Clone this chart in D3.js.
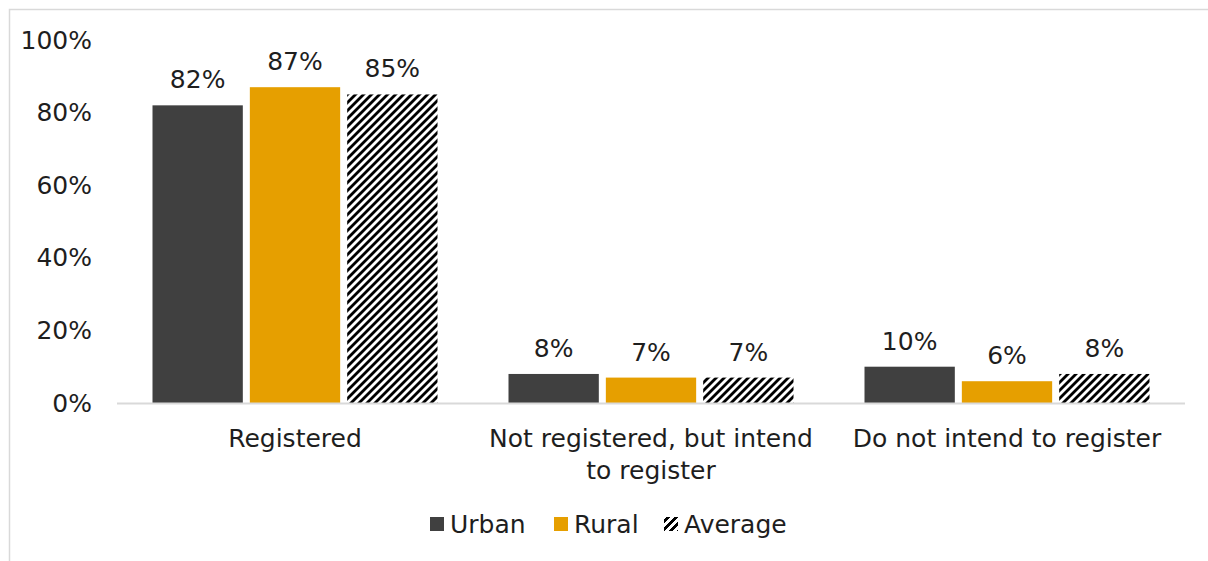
<!DOCTYPE html>
<html>
<head>
<meta charset="utf-8">
<script src="https://cdn.jsdelivr.net/npm/d3@7"></script>
<style>
  html, body { margin: 0; padding: 0; background: #fff; }
  svg { display: block; }
  text { font-family: "DejaVu Sans", sans-serif; fill: #1e1e1e; }
</style>
</head>
<body>
<svg id="chart" width="1208" height="561"></svg>
<script>
const categories = ["Registered", "Not registered, but intend to register", "Do not intend to register"];
const categoryLines = [["Registered"], ["Not registered, but intend", "to register"], ["Do not intend to register"]];
const seriesNames = ["Urban", "Rural", "Average"];
const urban = [82, 8, 10];
const rural = [87, 7, 6];
const average = [85, 7, 8];
const yTicks = [0, 20, 40, 60, 80, 100];

const seriesValues = [urban, rural, average];
const colors = { Urban: "#404040", Rural: "#E69F00", Average: "url(#hatch)" };

const svg = d3.select("#chart");
const W = 1208, H = 561;
const fontSize = 25;

// hatch pattern (wide upward diagonal, pixel staircase)
const defs = svg.append("defs");
const pat = defs.append("pattern").attr("id", "hatch")
  .attr("patternUnits", "userSpaceOnUse").attr("width", 8).attr("height", 8);
pat.append("rect").attr("width", 8).attr("height", 8).attr("fill", "#fff");
for (let r = 0; r < 8; r++) {
  for (let k = 0; k < 4; k++) {
    const c = ((7 - r) + k) % 8;
    pat.append("rect").attr("x", c).attr("y", r).attr("width", 1).attr("height", 1).attr("fill", "#000");
  }
}

// chart frame
svg.append("rect").attr("x", 9.5).attr("y", 9.5).attr("width", W + 50).attr("height", H + 50)
  .attr("fill", "#fff").attr("stroke", "#d9d9d9").attr("stroke-width", 1.5);

const plotLeft = 117, plotRight = 1185, plotTop = 40, plotBottom = 403;

const x = d3.scaleBand().domain(categories).range([plotLeft, plotRight]).paddingInner(0).paddingOuter(0);
const groupWidth = 285;
const xs = d3.scaleBand().domain(seriesNames).range([0, groupWidth]).paddingInner(7 / 97).paddingOuter(0);
const y = d3.scaleLinear().domain([0, 100]).range([plotBottom, plotTop]);

// y axis labels
const yAxis = d3.axisLeft(y).tickValues(yTicks).tickFormat(d => d + "%").tickSize(0).tickPadding(0);
const yg = svg.append("g").attr("transform", `translate(92,0)`).call(yAxis);
yg.select(".domain").remove();
yg.selectAll("text").attr("font-size", fontSize).attr("font-family", "DejaVu Sans, sans-serif").attr("fill", "#1e1e1e");

// bars
categories.forEach((cat, ci) => {
  const gx = x(cat) + (x.bandwidth() - groupWidth) / 2;
  const g = svg.append("g").attr("transform", `translate(${gx},0)`);
  seriesNames.forEach((s, si) => {
    const v = seriesValues[si][ci];
    g.append("rect")
      .attr("x", xs(s)).attr("y", y(v))
      .attr("width", xs.bandwidth()).attr("height", y(0) - y(v))
      .attr("fill", colors[s]);
    g.append("text")
      .attr("x", xs(s) + xs.bandwidth() / 2).attr("y", y(v) - 17)
      .attr("text-anchor", "middle").attr("font-size", fontSize)
      .text(v + "%");
  });
});

// x axis line
svg.append("line").attr("x1", plotLeft).attr("x2", plotRight)
  .attr("y1", plotBottom + 0.5).attr("y2", plotBottom + 0.5)
  .attr("stroke", "#d9d9d9").attr("stroke-width", 2);

// category labels
categories.forEach((cat, ci) => {
  const cx = x(cat) + x.bandwidth() / 2;
  categoryLines[ci].forEach((line, li) => {
    svg.append("text").attr("x", cx).attr("y", 447 + li * 32)
      .attr("text-anchor", "middle").attr("font-size", fontSize).text(line);
  });
});

// legend
const legendItems = [
  { name: "Urban", x: 430 },
  { name: "Rural", x: 554 },
  { name: "Average", x: 664 }
];
legendItems.forEach(it => {
  svg.append("rect").attr("x", it.x).attr("y", 517).attr("width", 14).attr("height", 14)
    .attr("fill", colors[it.name]);
  svg.append("text").attr("x", it.x + 20).attr("y", 533).attr("font-size", fontSize).text(it.name);
});
</script>
</body>
</html>
